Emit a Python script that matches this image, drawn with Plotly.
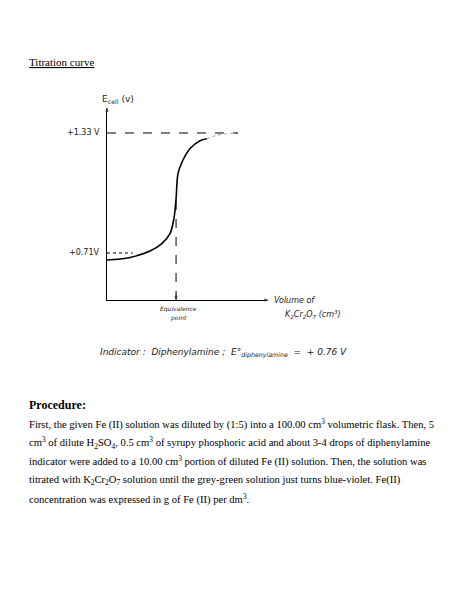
import plotly.graph_objects as go

vol = [0.0, 1.43, 2.67, 3.42, 3.91, 4.16, 4.29, 4.41, 4.66, 5.16, 5.78, 6.2]
emf = [0.674, 0.687, 0.72, 0.76, 0.81, 0.89, 0.99, 1.12, 1.18, 1.25, 1.29, 1.30]
tail_vol = [6.2, 6.7, 7.3, 8.14]
tail_emf = [1.30, 1.315, 1.325, 1.33]
e_top, e_low = 1.33, 0.71
v_eq = 4.29
proc_lines = [
    "First, the given Fe (II) solution was diluted by (1:5) into a 100.00 cm<sup>3</sup> volumetric flask. Then, 5",
    "cm<sup>3</sup> of dilute H<sub>2</sub>SO<sub>4</sub>, 0.5 cm<sup>3</sup> of syrupy phosphoric acid and about 3-4 drops of diphenylamine",
    "indicator were added to a 10.00 cm<sup>3</sup> portion of diluted Fe (II) solution. Then, the solution was",
    "titrated with K<sub>2</sub>Cr<sub>2</sub>O<sub>7</sub> solution until the grey-green solution just turns blue-violet. Fe(II)",
    "concentration was expressed in g of Fe (II) per dm<sup>3</sup>.",
]

W, H, OFF = 458, 597, 8
def px(x): return (x - OFF) / W
def py(y): return 1 - (y - OFF) / H

ymin, ymax = 0.467, 1.459
fig = go.Figure()
fig.add_trace(go.Scatter(x=vol, y=emf, mode="lines", line=dict(color="black", width=1.6, shape="spline")))
fig.add_trace(go.Scatter(x=tail_vol, y=tail_emf, mode="lines", line=dict(color="#999", width=1, dash="dot", shape="spline")))
fig.add_trace(go.Scatter(x=[0, tail_vol[-1]], y=[e_top, e_top], mode="lines", line=dict(color="black", width=1, dash="dash")))
fig.add_trace(go.Scatter(x=[0, 1.6], y=[e_low, e_low], mode="lines", line=dict(color="black", width=1, dash="dot")))
fig.add_trace(go.Scatter(x=[v_eq, v_eq], y=[ymin, 1.0], mode="lines", line=dict(color="black", width=1, dash="dash")))

fig.update_layout(
    width=W, height=H, margin=dict(l=0, r=0, t=0, b=0), showlegend=False,
    paper_bgcolor="white", plot_bgcolor="white",
    xaxis=dict(domain=[px(107), px(268)], range=[0, 10], showgrid=False, zeroline=False,
               showticklabels=False, showline=True, linecolor="black", linewidth=1.2),
    yaxis=dict(domain=[py(300), py(108)], range=[ymin, ymax], showgrid=False, zeroline=False,
               showticklabels=False, showline=True, linecolor="black", linewidth=1.2),
)
hand = dict(family="DejaVu Sans", color="#222")
ann = [
    dict(x=27, y=62, text="<u>Titration curve</u>", font=dict(family="Liberation Serif", size=11, color="black"), xanchor="left"),
    dict(x=100, y=100, text="E<sub>cell</sub> (v)", font=dict(hand, size=9), xanchor="left"),
    dict(x=102, y=133, text="+1.33 V", font=dict(hand, size=8), xanchor="right"),
    dict(x=102, y=253, text="+0.71V", font=dict(hand, size=8), xanchor="right"),
    dict(x=272, y=300, text="Volume of", font=dict(hand, size=8, style="italic"), xanchor="left"),
    dict(x=283, y=314, text="K<sub>2</sub>Cr<sub>2</sub>O<sub>7</sub> (cm<sup>3</sup>)", font=dict(hand, size=8, style="italic"), xanchor="left"),
    dict(x=178, y=309, text="Equivalence", font=dict(hand, size=6, style="italic")),
    dict(x=178, y=318, text="point", font=dict(hand, size=6, style="italic")),
    dict(x=98, y=353, text="Indicator :  Diphenylamine ;  E°<sub>diphenylamine</sub>  =  + 0.76 V", font=dict(hand, size=9, style="italic"), xanchor="left"),
    dict(x=27, y=405, text="<b>Procedure:</b>", font=dict(family="Liberation Serif", size=12, color="black"), xanchor="left"),
]
for i, t in enumerate(proc_lines):
    ann.append(dict(x=27, y=424 + i*18.7, text=t, font=dict(family="Liberation Serif", size=10.6, color="black"), xanchor="left"))
for a in ann:
    a.update(xref="paper", yref="paper", showarrow=False, yanchor="middle")
    a["x"] = px(a["x"])
    a["y"] = py(a["y"])
fig.update_layout(annotations=ann)
fig.add_annotation(x=0, y=ymax, ax=0, ay=ymax-0.03, xref="x", yref="y", axref="x", ayref="y",
                   showarrow=True, arrowhead=2, arrowsize=0.7, arrowwidth=1, text="")
fig.add_annotation(x=10, y=ymin, ax=9.7, ay=ymin, xref="x", yref="y", axref="x", ayref="y",
                   showarrow=True, arrowhead=2, arrowsize=0.7, arrowwidth=1, text="")
fig.add_annotation(x=v_eq, y=ymin, ax=v_eq, ay=ymin+0.04, xref="x", yref="y", axref="x", ayref="y",
                   showarrow=True, arrowhead=2, arrowsize=0.7, arrowwidth=1, text="")
fig.write_html("out.html")
